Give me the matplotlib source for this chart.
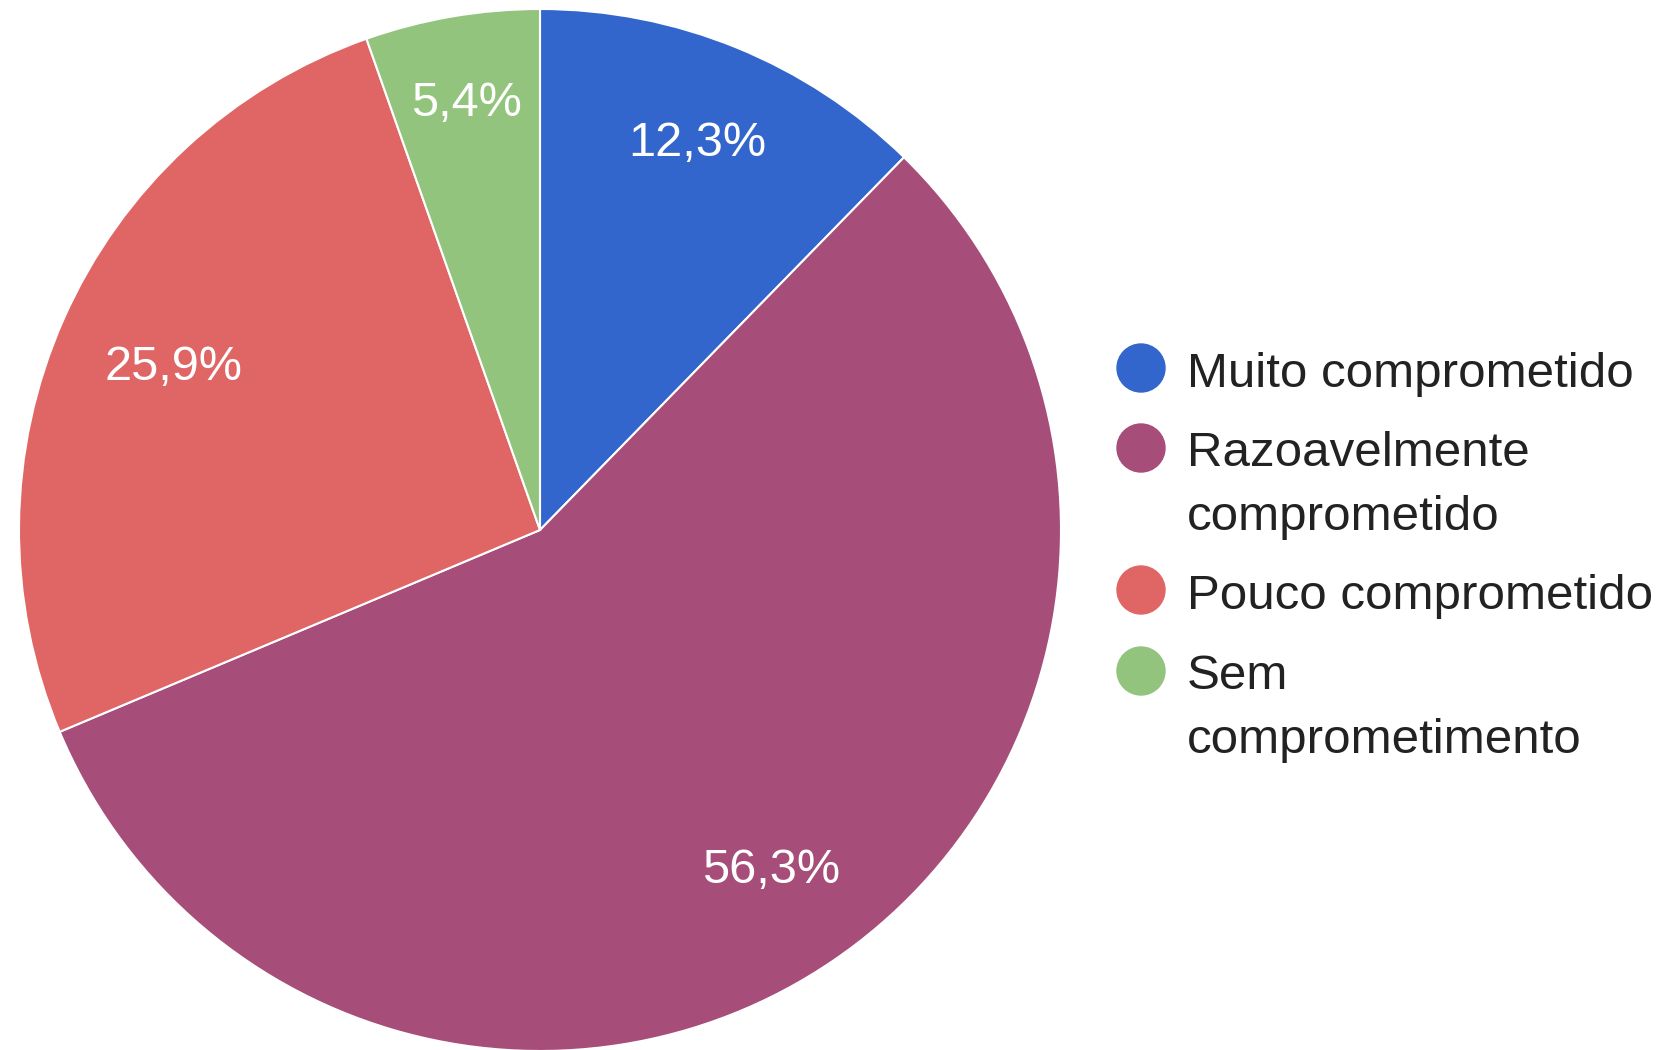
import matplotlib
matplotlib.use("Agg")
import matplotlib.pyplot as plt
from matplotlib.patches import Circle

categories = ["Muito comprometido", "Razoavelmente\ncomprometido",
              "Pouco comprometido", "Sem\ncomprometimento"]
values = [12.3, 56.3, 25.9, 5.4]
colors = ["#3366cc", "#a64d79", "#e06666", "#93c47d"]

FONT = ["Liberation Sans", "DejaVu Sans"]
W, H = 1662, 1050

fig = plt.figure(figsize=(W / 100, H / 100), dpi=100)

# pie: centre (540, 530) px from top-left, radius 521 px
cx, cy, r = 540, 530, 521
ax = fig.add_axes([(cx - r) / W, (H - cy - r) / H, 2 * r / W, 2 * r / H])
pct_labels = [f"{v:.1f}%".replace(".", ",") for v in values]
wedges, texts = ax.pie(values, labels=pct_labels, colors=colors, startangle=90,
                       counterclock=False, labeldistance=0.8,
                       wedgeprops=dict(edgecolor="white", linewidth=1.5),
                       textprops=dict(color="white", fontsize=35, family=FONT))
# small per-label radial tweak so labels sit where the original puts them
label_r = [0.80, 0.79, 0.77, 0.83]
for t, lr in zip(texts, label_r):
    x, y = t.get_position()
    t.set_position((x * lr / 0.8, y * lr / 0.8))
    t.set_ha("center")
    t.set_va("center")
ax.set_xlim(-1, 1)
ax.set_ylim(-1, 1)

# legend drawn in pixel space
lax = fig.add_axes([0, 0, 1, 1])
lax.set_xlim(0, W)
lax.set_ylim(H, 0)
lax.axis("off")
marker_y = [368, 448, 590, 671]
baseline_y = [387, 466, 609, 689]
for name, col, my, by in zip(categories, colors, marker_y, baseline_y):
    lax.add_patch(Circle((1141, my), 24, color=col))
    for i, line in enumerate(name.split("\n")):
        lax.text(1187, by + i * 64, line, fontsize=35.5, family=FONT,
                 color="#222222", va="baseline", ha="left")

fig.savefig("out.png", dpi=100)
